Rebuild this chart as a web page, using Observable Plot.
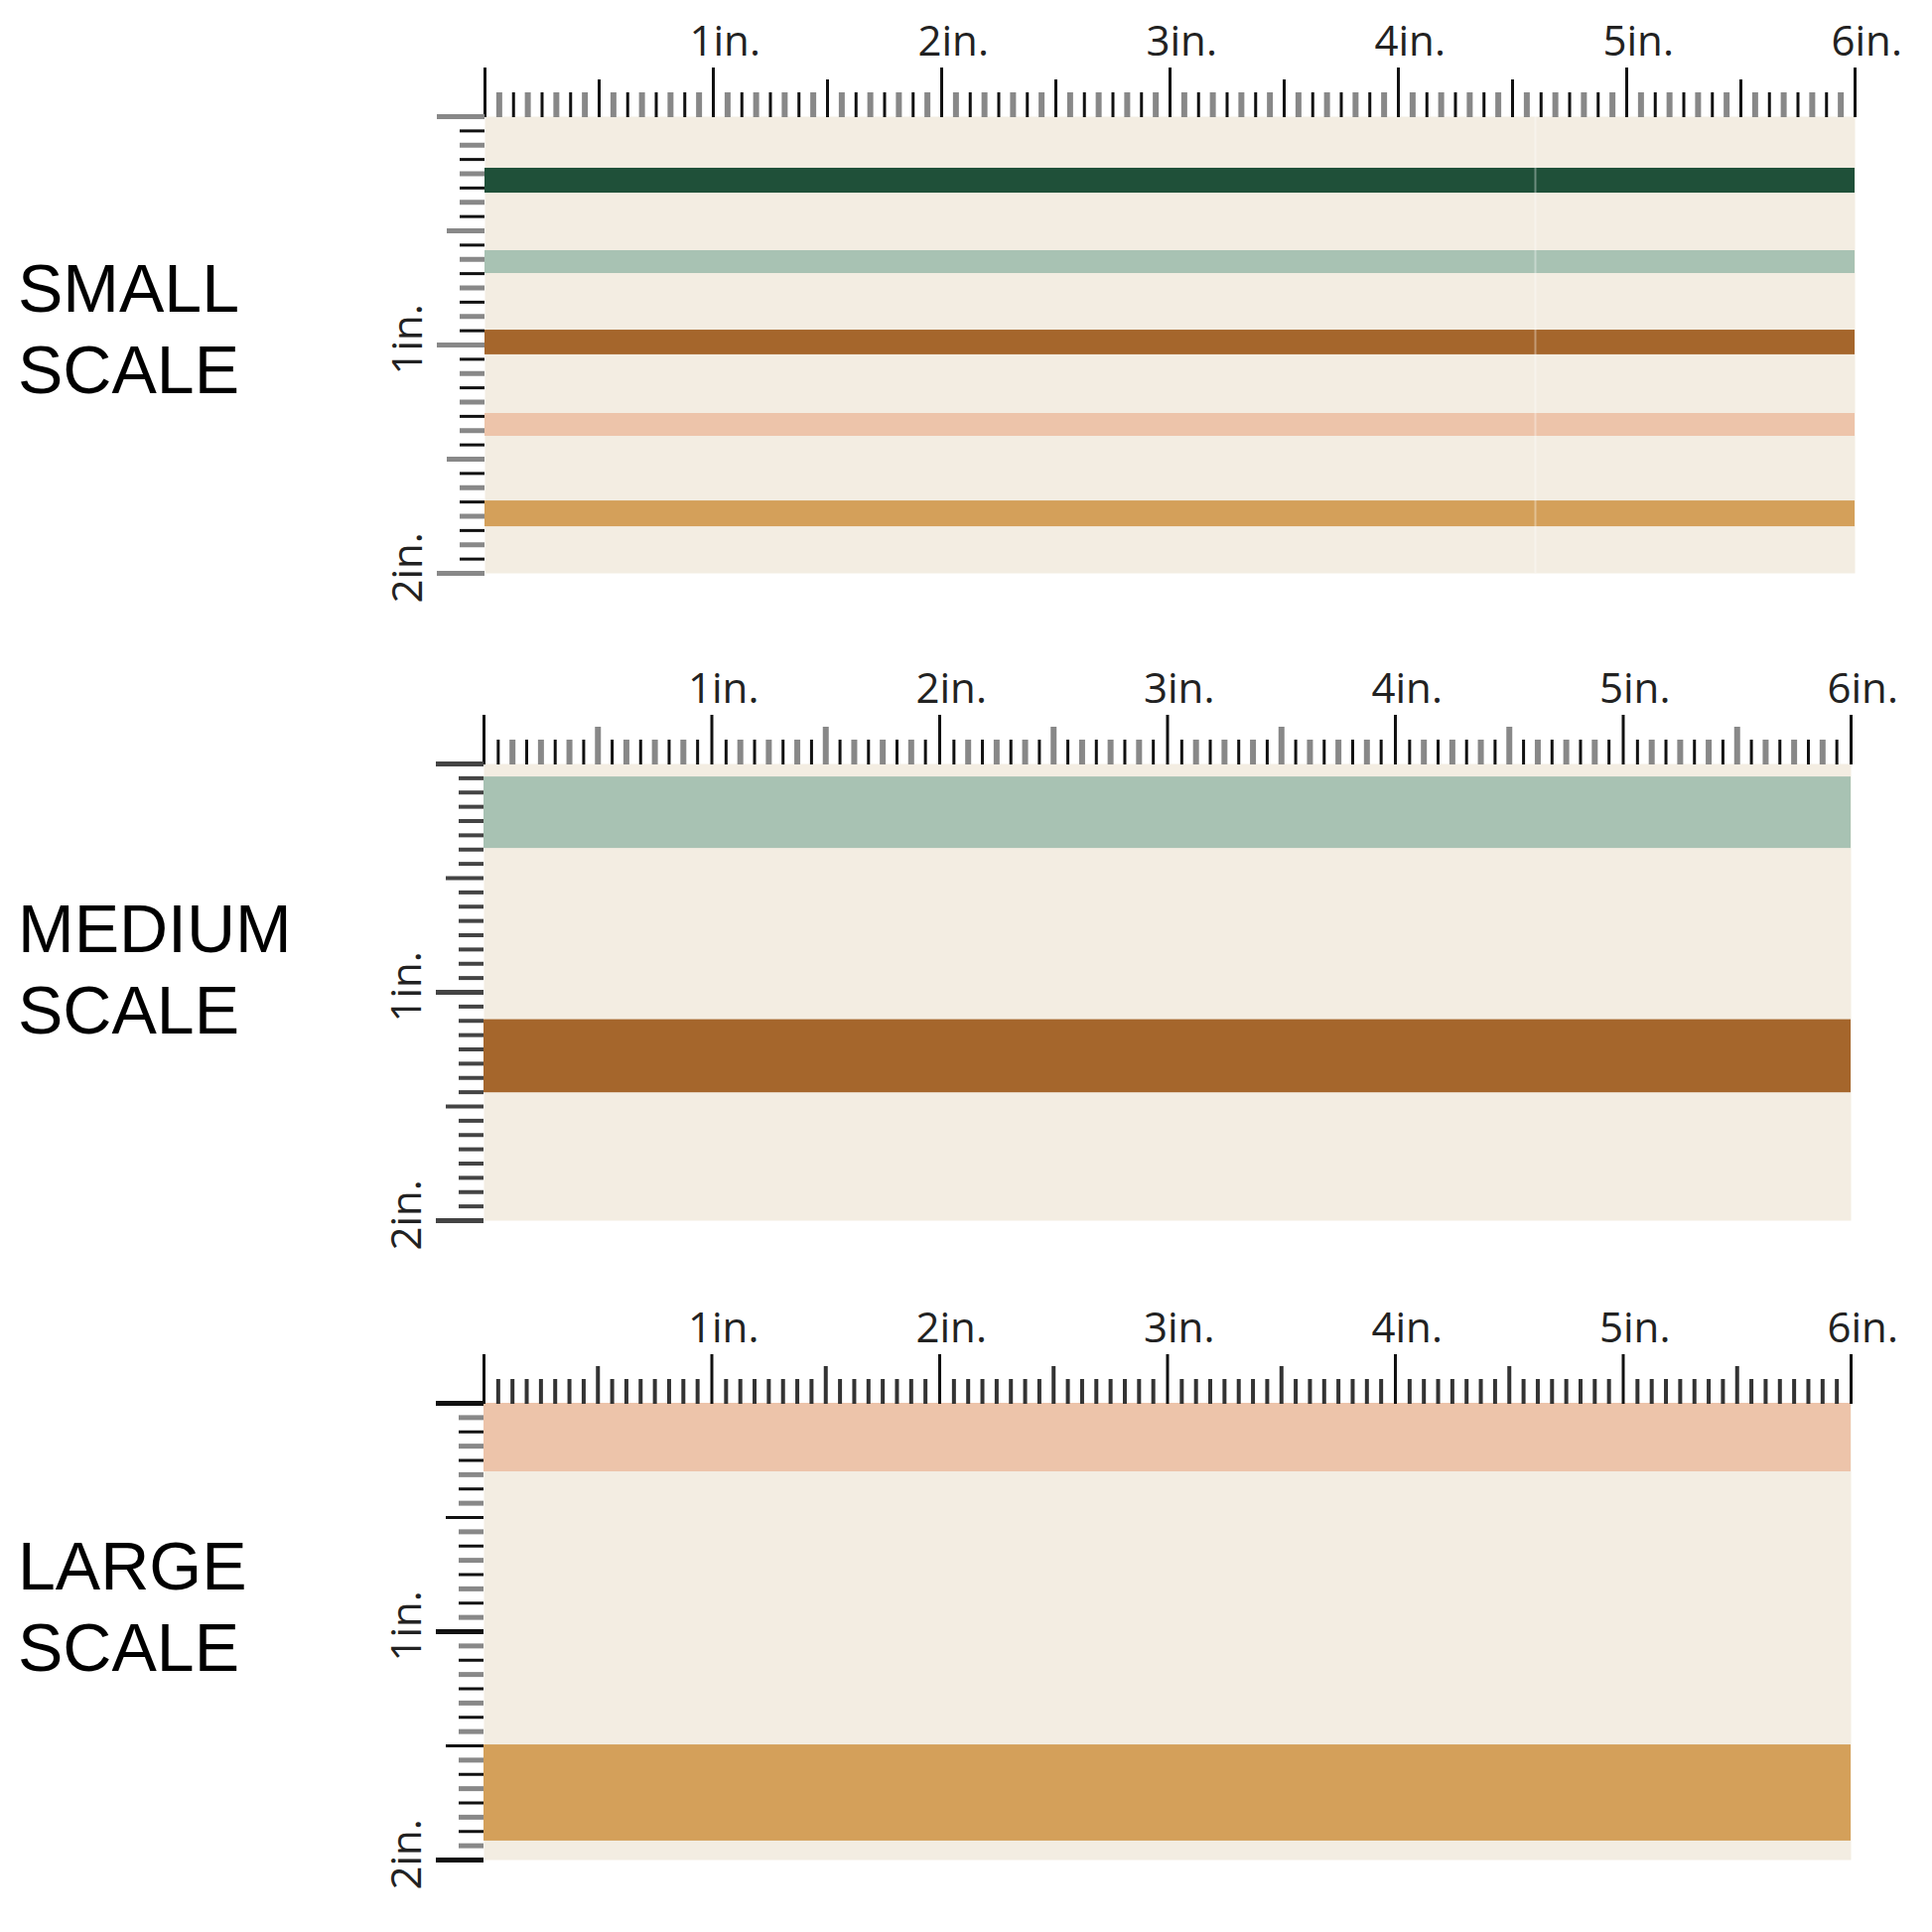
<!DOCTYPE html>
<html><head><meta charset="utf-8">
<script src="https://cdn.jsdelivr.net/npm/d3@7"></script>
<script src="https://cdn.jsdelivr.net/npm/@observablehq/plot@0.6"></script>
<style>
body{margin:0;background:#fff;}
#root{position:relative;width:1946px;height:1946px;overflow:hidden;background:#fff;}
.panel{position:absolute;left:0;}
.panel svg{overflow:visible;}
.label{position:absolute;left:18px;font-family:"Liberation Sans",Arial,sans-serif;font-size:68px;line-height:82px;color:#000;white-space:nowrap;}
</style></head><body><div id="root"></div>
<script>
// ---- data ----
const scaleNames = ["SMALL", "MEDIUM", "LARGE"];
const colorNames = ["green", "sage", "brown", "peach", "mustard"];
const colorValues = ["#1f5039", "#a8c2b3", "#a5662c", "#edc4aa", "#d4a05a"];
const fabricColor = "#f3ede2";

const smallTop = [0.226, 0.587, 0.935, 1.300, 1.683];
const smallBottom = [0.335, 0.687, 1.043, 1.400, 1.796];
const smallColor = ["green", "sage", "brown", "peach", "mustard"];

const mediumTop = [0.057, 1.120];
const mediumBottom = [0.370, 1.440];
const mediumColor = ["sage", "brown"];

const largeTop = [0.000, 1.496];
const largeBottom = [0.300, 1.917];
const largeColor = ["peach", "mustard"];

const rulerWidthIn = 6;
const rulerHeightIn = 2;
const xTickLabels = [1, 2, 3, 4, 5, 6];
const yTickLabels = [1, 2];
const smallSeams = [4.6];

// ---- layout (pixels) ----
const panels = [
  {name: scaleNames[0], top: 0, labelTop: 249, mr: 78, ml: 488, tops: smallTop, bottoms: smallBottom, colors: smallColor, seams: smallSeams,
   tOdd: ["#888", 6], tEven: ["#111", 3], lOdd: ["#111", 3], lEven: ["#888", 5]},
  {name: scaleNames[1], top: 652, labelTop: 894, mr: 82, ml: 487, tops: mediumTop, bottoms: mediumBottom, colors: mediumColor, seams: [],
   tOdd: ["#111", 3], tEven: ["#888", 6], lOdd: ["#444", 4], lEven: ["#444", 4]},
  {name: scaleNames[2], top: 1296, labelTop: 1536, mr: 82, ml: 487, tops: largeTop, bottoms: largeBottom, colors: largeColor, seams: [],
   tOdd: ["#333", 4], tEven: ["#333", 4], lOdd: ["#888", 5], lEven: ["#111", 3]}
];

const root = document.getElementById("root");
const H = 640, MT = 117, PH = 460;

const sixteenthsX = d3.range(0, rulerWidthIn * 16 + 1).map(i => i / 16);
const sixteenthsY = d3.range(0, rulerHeightIn * 16 + 1).map(i => i / 16);
const odd = arr => arr.filter((d, i) => i % 2 === 1);
const eighth = arr => arr.filter((d, i) => i % 2 === 0 && i % 8 !== 0);
const half = arr => arr.filter((d, i) => i % 8 === 0 && i % 16 !== 0);
const inch = arr => arr.filter((d, i) => i % 16 === 0);

for (const p of panels) {
  const idx = d3.range(p.tops.length);
  const axX = (data, size, [c, w]) => Plot.axisX(data, {anchor: "top", tickSize: size, stroke: c, strokeWidth: w, fill: "none", label: null});
  const axY = (data, size, [c, w]) => Plot.axisY(data, {anchor: "left", tickSize: size, stroke: c, strokeWidth: w, fill: "none", label: null});
  const chart = Plot.plot({
    width: 1946, height: H,
    marginTop: MT, marginBottom: H - MT - PH, marginLeft: p.ml, marginRight: p.mr,
    x: {domain: [0, rulerWidthIn]},
    y: {domain: [0, rulerHeightIn], reverse: true},
    color: {type: "ordinal", domain: colorNames, range: colorValues},
    style: {background: "transparent", overflow: "visible"},
    marks: [
      Plot.frame({fill: fabricColor, stroke: null}),
      Plot.rect(idx, {x1: 0, x2: rulerWidthIn, y1: i => p.tops[i], y2: i => p.bottoms[i], fill: i => p.colors[i]}),
      Plot.ruleX(p.seams, {y1: 0, y2: rulerHeightIn, stroke: "#fff", strokeOpacity: 0.35, strokeWidth: 2}),
      // top ruler
      axX(odd(sixteenthsX), 25, p.tOdd),
      axX(eighth(sixteenthsX), 25, p.tEven),
      axX(half(sixteenthsX), 38, p.tEven),
      axX(inch(sixteenthsX), 50, ["#111", 3]),
      Plot.axisX(xTickLabels, {anchor: "top", tickSize: 0, tickPadding: 0, tickFormat: d => d + "in.",
        textAnchor: "start", dx: -24, dy: -62, fontSize: 42, fontFamily: "Open Sans", fill: "#222", label: null}),
      // left ruler
      axY(odd(sixteenthsY), 25, p.lOdd),
      axY(eighth(sixteenthsY), 25, p.lEven),
      axY(half(sixteenthsY), 38, p.lEven),
      axY(inch(sixteenthsY), 48, [p.lEven[0], 5]),
      Plot.axisY(yTickLabels, {anchor: "left", tickSize: 0, tickPadding: 0, tickFormat: d => d + "in.",
        rotate: -90, textAnchor: "start", lineAnchor: "bottom", dx: -64, dy: 30, fontSize: 42, fontFamily: "Open Sans", fill: "#222", label: null})
    ]
  });
  const wrap = document.createElement("div");
  wrap.className = "panel";
  wrap.style.top = p.top + "px";
  wrap.appendChild(chart);
  root.appendChild(wrap);

  const lab = document.createElement("div");
  lab.className = "label";
  lab.style.top = p.labelTop + "px";
  lab.innerHTML = p.name + "<br>SCALE";
  root.appendChild(lab);
}
</script>
</body></html>
